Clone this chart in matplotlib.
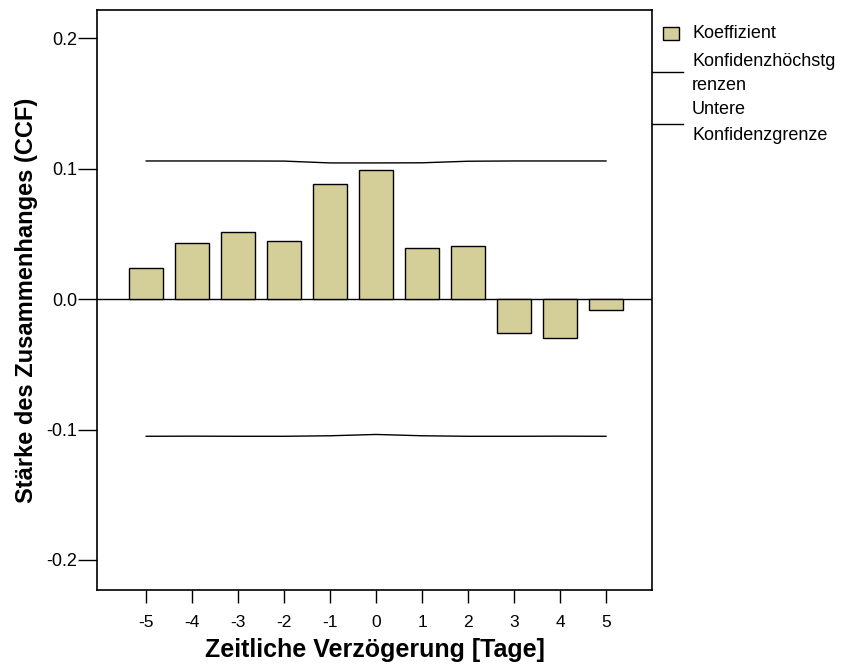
import matplotlib.pyplot as plt
from matplotlib.patches import Rectangle
from matplotlib.lines import Line2D

plt.rcParams['font.family'] = ['Liberation Sans', 'DejaVu Sans']

lags = [-5, -4, -3, -2, -1, 0, 1, 2, 3, 4, 5]
coef = [0.0238, 0.043, 0.0515, 0.0444, 0.088, 0.0990, 0.039, 0.0406, -0.026, -0.030, -0.0084]
upper = [0.1058, 0.1058, 0.1058, 0.1057, 0.1043, 0.1043, 0.1044, 0.1056, 0.1058, 0.1058, 0.1058]
lower = [-0.1052, -0.1051, -0.1052, -0.1052, -0.1048, -0.1038, -0.1048, -0.1052, -0.1052, -0.1051, -0.1052]
yticks = [-0.2, -0.1, 0.0, 0.1, 0.2]

fig = plt.figure(figsize=(8.46, 6.68), dpi=100)
ax = fig.add_axes([97/846, 1 - 590/668, 555/846, 580/668])

ax.bar(lags, coef, width=0.74, color='#d4cf98', edgecolor='black', linewidth=1.0, zorder=3)
ax.plot(lags, upper, color='black', linewidth=1.0)
ax.plot(lags, lower, color='black', linewidth=1.0)
ax.axhline(0, color='black', linewidth=1.0, zorder=2)

ax.set_xlim(-6.07, 6.0)
ax.set_ylim(-0.223, 0.2215)
ax.set_xticks(lags)
ax.set_xticklabels([str(l) for l in lags])
ax.set_yticks(yticks)
ax.set_yticklabels(['%.1f' % v for v in yticks])
# tick lengths are in points (1 pt = 1.39 px at 100 dpi)
ax.tick_params(axis='x', direction='out', length=9.7, width=1.0, labelsize=12.5, pad=8)
ax.tick_params(axis='y', direction='out', length=13.7, width=1.0, labelsize=13, pad=0.7)
for s in ax.spines.values():
    s.set_linewidth(1.2)

ax.set_xlabel('Zeitliche Verzögerung [Tage]', fontsize=18, fontweight='bold', labelpad=6)
ax.set_ylabel('Stärke des Zusammenhanges (CCF)', fontsize=17, fontweight='bold', labelpad=6)

# legend drawn by hand, outside the plot on the right
def px(x, y):
    return x / 846, 1 - y / 668

fig.patches.append(Rectangle(px(663, 40), 16/846, 13/668, transform=fig.transFigure,
                             facecolor='#d4cf98', edgecolor='black', linewidth=1.0))
fig.text(*px(692, 33), 'Koeffizient', fontsize=13, va='center')
fig.lines.append(Line2D([652/846, 683/846], [1 - 72/668] * 2, transform=fig.transFigure,
                        color='black', linewidth=1.0))
fig.text(*px(692, 61), 'Konfidenzhöchstg', fontsize=13, va='center')
fig.text(*px(692, 85), 'renzen', fontsize=13, va='center')
fig.lines.append(Line2D([652/846, 683/846], [1 - 124/668] * 2, transform=fig.transFigure,
                        color='black', linewidth=1.0))
fig.text(*px(692, 110), 'Untere', fontsize=13, va='center')
fig.text(*px(692, 135), 'Konfidenzgrenze', fontsize=13, va='center')

fig.savefig('out.png', dpi=100)
